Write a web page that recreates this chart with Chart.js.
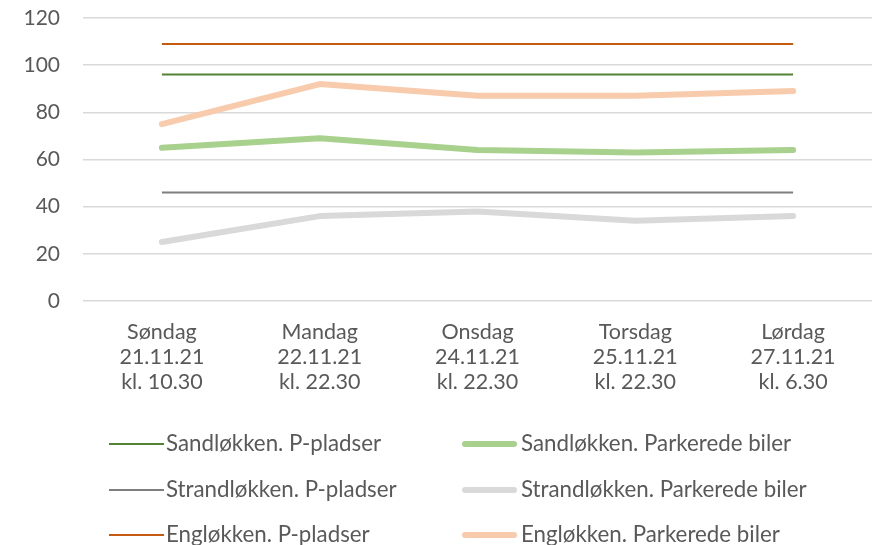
<!DOCTYPE html>
<html>
<head>
<meta charset="utf-8">
<script src="https://cdn.jsdelivr.net/npm/chart.js@4.4.0/dist/chart.umd.min.js"></script>
<style>
  html, body { margin: 0; padding: 0; background: #fff; }
  #wrap { width: 872px; height: 545px; }
</style>
</head>
<body>
<div id="wrap"><canvas id="c" width="872" height="545"></canvas></div>
<script>
// ---- Data ----
const categories = [
  ["Søndag", "21.11.21", "kl. 10.30"],
  ["Mandag", "22.11.21", "kl. 22.30"],
  ["Onsdag", "24.11.21", "kl. 22.30"],
  ["Torsdag", "25.11.21", "kl. 22.30"],
  ["Lørdag", "27.11.21", "kl. 6.30"]
];
const seriesNames = [
  "Sandløkken. P-pladser",
  "Sandløkken. Parkerede biler",
  "Strandløkken. P-pladser",
  "Strandløkken. Parkerede biler",
  "Engløkken. P-pladser",
  "Engløkken. Parkerede biler"
];
const sandPladser   = [96, 96, 96, 96, 96];
const sandParkerede = [65, 69, 64, 63, 64];
const strandPladser   = [46, 46, 46, 46, 46];
const strandParkerede = [25, 36, 38, 34, 36];
const englPladser   = [109, 109, 109, 109, 109];
const englParkerede = [75, 92, 87, 87, 89];
const yTicks = [0, 20, 40, 60, 80, 100, 120];

// ---- Styles ----
const FONT = "Lato";
const TXT = "#595959";
const colors = ["#548235", "#A9D18E", "#7F7F7F", "#D9D9D9", "#C55A11", "#F8CBAD"];
const widths = [2, 6, 2, 6, 2, 6];
const values = [sandPladser, sandParkerede, strandPladser, strandParkerede, englPladser, englParkerede];

const datasets = values.map((v, i) => ({
  label: seriesNames[i],
  data: v,
  borderColor: colors[i],
  backgroundColor: colors[i],
  borderWidth: widths[i],
  pointRadius: 0,
  pointHoverRadius: 0,
  tension: 0,
  fill: false,
  borderCapStyle: widths[i] > 3 ? "round" : "butt",
  borderJoinStyle: "round"
}));

const gridLegend = {
  id: "gridLegend",
  afterDraw(chart) {
    const ctx = chart.ctx;
    const colLine = [109, 462];
    const colText = [166, 521];
    const rowY = [444, 490, 535];
    const lineLen = 55;
    ctx.save();
    ctx.font = "22.3px " + FONT;
    ctx.fillStyle = TXT;
    ctx.textBaseline = "middle";
    ctx.textAlign = "left";
    chart.data.datasets.forEach((ds, i) => {
      const col = i % 2, row = Math.floor(i / 2);
      const y = rowY[row];
      ctx.beginPath();
      ctx.strokeStyle = ds.borderColor;
      ctx.lineWidth = ds.borderWidth;
      ctx.lineCap = ds.borderWidth > 3 ? "round" : "butt";
      const inset = ds.borderWidth > 3 ? 3 : 0;
      ctx.moveTo(colLine[col] + inset, y);
      ctx.lineTo(colLine[col] + lineLen - inset, y);
      ctx.stroke();
      ctx.fillStyle = TXT;
      ctx.fillText(ds.label, colText[col], y);
    });
    ctx.restore();
  }
};

new Chart(document.getElementById("c"), {
  type: "line",
  data: { labels: categories, datasets },
  options: {
    responsive: false,
    devicePixelRatio: 1,
    animation: false,
    layout: { padding: { left: 0, top: 18, right: -4, bottom: 134 } },
    plugins: { legend: { display: false }, tooltip: { enabled: false } },
    scales: {
      x: {
        offset: true,
        grid: { display: false, drawTicks: false },
        border: { display: false },
        ticks: { color: TXT, font: { family: FONT, size: 21.5, lineHeight: 1.16 }, padding: 19, maxRotation: 0, autoSkip: false },
        afterFit(scale) { scale.height = 110; }
      },
      y: {
        min: 0, max: 120,
        afterBuildTicks(scale) { scale.ticks = yTicks.map(v => ({ value: v })); },
        grid: { color: "#D9D9D9", lineWidth: 1.5, drawTicks: true, tickLength: 23, tickColor: "rgba(0,0,0,0)" },
        border: { display: false },
        ticks: { color: TXT, font: { family: FONT, size: 21 }, padding: 0 },
        afterFit(scale) { scale.width = 83; }
      }
    }
  },
  plugins: [gridLegend]
});
</script>
</body>
</html>
